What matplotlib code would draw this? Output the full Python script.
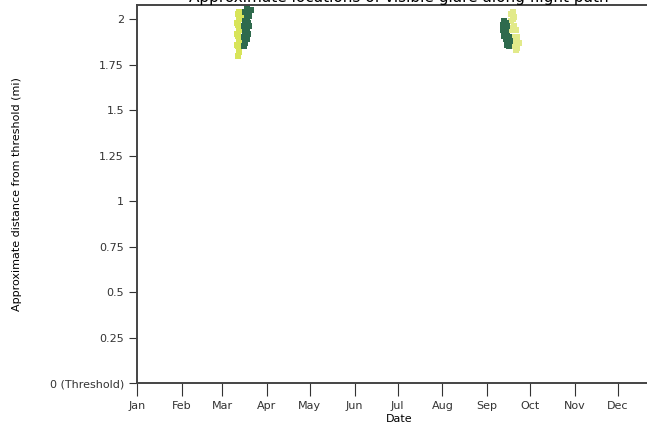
#! /usr/bin/env python3

import datetime as dt
import matplotlib
matplotlib.use('Agg')
import matplotlib.pyplot as plt
import matplotlib.dates as mdates

# glare points: (month, day) and distance from threshold (mi)
spring_low_dates = [(3, 11), (3, 11), (3, 11), (3, 12), (3, 12), (3, 12), (3, 12), (3, 12),
                    (3, 13), (3, 13), (3, 13), (3, 13), (3, 13), (3, 14), (3, 14), (3, 14)]
spring_low_dist = [1.86, 1.92, 1.98, 1.80, 1.85, 1.91, 1.97, 2.03,
                   1.82, 1.88, 1.94, 2.00, 2.04, 1.90, 1.96, 2.02]
spring_high_dates = [(3, 16), (3, 16), (3, 16), (3, 17), (3, 17), (3, 17), (3, 17), (3, 18), (3, 18),
                     (3, 18), (3, 18), (3, 19), (3, 19), (3, 19), (3, 20), (3, 20), (3, 21)]
spring_high_dist = [1.85, 1.90, 1.96, 1.87, 1.93, 1.99, 2.04, 1.89, 1.95,
                    2.01, 2.06, 1.92, 1.98, 2.04, 1.96, 2.02, 2.05]

autumn_low_dates = [(9, 12), (9, 12), (9, 13), (9, 13), (9, 13), (9, 14), (9, 14), (9, 14),
                    (9, 15), (9, 15), (9, 15), (9, 16), (9, 16), (9, 17)]
autumn_low_dist = [1.94, 1.97, 1.91, 1.95, 1.99, 1.89, 1.93, 1.98,
                   1.86, 1.91, 1.96, 1.85, 1.90, 1.88]
autumn_high_dates = [(9, 18), (9, 18), (9, 18), (9, 19), (9, 19), (9, 19), (9, 19), (9, 20), (9, 20),
                     (9, 20), (9, 20), (9, 21), (9, 21), (9, 21), (9, 22), (9, 22), (9, 23)]
autumn_high_dist = [1.94, 1.99, 2.03, 1.89, 1.95, 2.00, 2.04, 1.85, 1.90,
                    1.96, 2.01, 1.83, 1.88, 1.94, 1.84, 1.90, 1.87]

y_ticks = [0, 0.25, 0.5, 0.75, 1, 1.25, 1.5, 1.75, 2]
y_labels = ['0 (Threshold)', '0.25', '0.5', '0.75', '1', '1.25', '1.5', '1.75', '2']

yellow = '#d8e45a'
pale_yellow = '#e2ea8a'
green = '#2f6a4d'


def to_dates(md):
    return [dt.datetime(2023, m, d) for m, d in md]


fig = plt.figure(figsize=(6.47, 4.3), dpi=100)
ax = fig.add_axes([0.212, 0.109, 0.81, 0.879])

kw = dict(s=14, marker='s', linewidths=0, clip_on=True)
ax.scatter(to_dates(spring_low_dates), spring_low_dist, color=yellow, **kw)
ax.scatter(to_dates(spring_high_dates), spring_high_dist, color=green, **kw)
ax.scatter(to_dates(autumn_high_dates), autumn_high_dist, color=pale_yellow, **kw)
ax.scatter(to_dates(autumn_low_dates), autumn_low_dist, color=green, **kw)

ax.set_xlim(dt.datetime(2023, 1, 1), dt.datetime(2023, 12, 31))
ax.set_ylim(0, 2.077)
ax.xaxis.set_major_locator(mdates.MonthLocator())
ax.xaxis.set_major_formatter(mdates.DateFormatter('%b'))
ax.set_yticks(y_ticks)
ax.set_yticklabels(y_labels)
ax.tick_params(labelsize=8, length=6, colors='#333333')
ax.tick_params(axis='x', length=9, pad=4)

for s in ax.spines.values():
    s.set_color('#444444')
    s.set_linewidth(1.4)

ax.set_xlabel('Date', fontsize=8, labelpad=2)
ax.set_ylabel('Approximate distance from threshold (mi)', fontsize=8, labelpad=20)
ax.set_title('Approximate locations of visible glare along flight path', fontsize=11, pad=1)

fig.savefig('out.png', dpi=100)
